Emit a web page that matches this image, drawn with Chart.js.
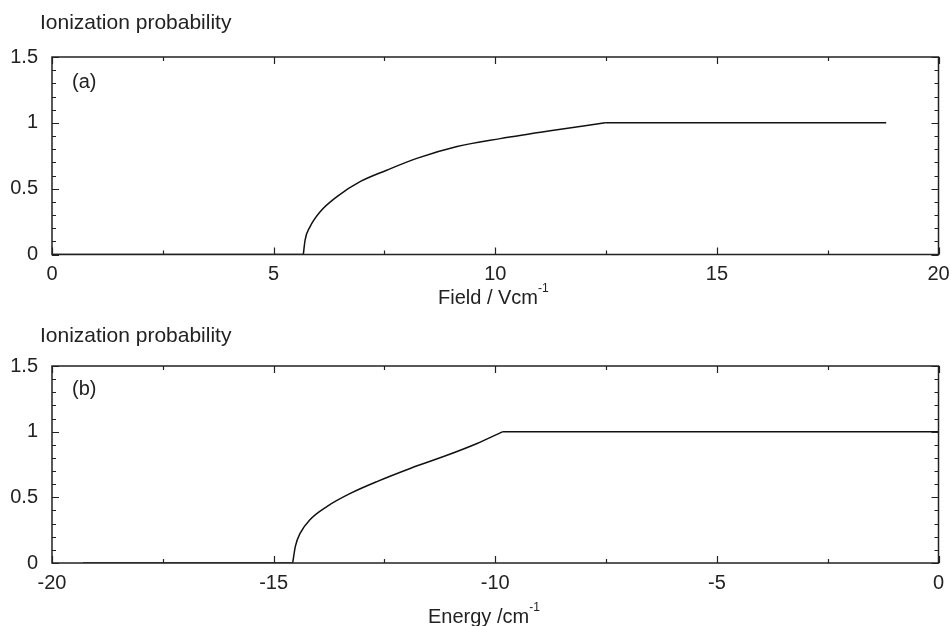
<!DOCTYPE html>
<html>
<head>
<meta charset="utf-8">
<script src="https://cdn.jsdelivr.net/npm/chart.js@4.4.1/dist/chart.umd.min.js"></script>
<style>
  body { margin: 0; background: #fff; width: 951px; height: 626px; position: relative; overflow: hidden;
         font-family: "Liberation Sans", Arial, sans-serif; color: #222; }
  canvas { position: absolute; left: 0; }
  .lbl { position: absolute; font-size: 20px; line-height: 20px; white-space: nowrap; }
  .ttl { font-size: 21px; }
  .sup { font-size: 12px; position: relative; top: -12px; }
</style>
</head>
<body>
<canvas id="fieldCanvas" width="951" height="310" style="top:0"></canvas>
<canvas id="energyCanvas" width="951" height="316" style="top:310px"></canvas>

<div class="lbl ttl" style="left:40px; top:12px">Ionization probability</div>
<div class="lbl" style="left:72px; top:71px">(a)</div>
<div class="lbl" style="left:438px; top:287px">Field / Vcm<span class="sup">-1</span></div>

<div class="lbl ttl" style="left:40px; top:325px">Ionization probability</div>
<div class="lbl" style="left:72px; top:378px">(b)</div>
<div class="lbl" style="left:428px; top:606px">Energy /cm<span class="sup">-1</span></div>

<script>
// panel (a): ionization probability vs field
const fieldX = [0, 5.67, 5.71, 5.82, 6.05, 6.43, 6.95, 7.55, 8.23, 9.14, 10.11, 11.24, 12.48, 18.82];
const fieldP = [0, 0, 0.11, 0.21, 0.325, 0.44, 0.553, 0.64, 0.73, 0.82, 0.88, 0.94, 1.0, 1.0];

// panel (b): ionization probability vs energy
const energyX = [-19.3, -14.57, -14.51, -14.4, -14.18, -13.8, -13.27, -12.67, -11.92, -11.09, -10.41, -9.83, 0];
const energyP = [0, 0, 0.127, 0.228, 0.33, 0.43, 0.53, 0.62, 0.72, 0.82, 0.91, 1.0, 1.0];

const fieldTicks = [0, 5, 10, 15, 20];
const energyTicks = [-20, -15, -10, -5, 0];
const probTicks = [0, 0.5, 1, 1.5];

const FONT = { family: '"Liberation Sans", Arial, sans-serif', size: 20 };
const INK = '#222';

// gnuplot style frame with inward ticks on all four sides
const inwardTicks = {
    id: 'inwardTicks',
    afterDraw(chart, args, opts) {
        const ctx = chart.ctx;
        const a = chart.chartArea;
        const xs = chart.scales.x, ys = chart.scales.y;
        ctx.save();
        ctx.strokeStyle = INK;
        ctx.lineWidth = 1.5;
        ctx.strokeRect(a.left, a.top, a.right - a.left, a.bottom - a.top);
        ctx.lineWidth = 1.2;
        ctx.beginPath();
        for (let v = xs.min; v <= xs.max + 1e-9; v += opts.xMinor) {
            const px = Math.round(xs.getPixelForValue(v)) + 0.5;
            const r = v / opts.xMajor;
            const len = Math.abs(r - Math.round(r)) < 1e-6 ? 7 : 4;
            ctx.moveTo(px, a.bottom); ctx.lineTo(px, a.bottom - len);
            ctx.moveTo(px, a.top); ctx.lineTo(px, a.top + len);
        }
        for (let v = ys.min; v <= ys.max + 1e-9; v += opts.yMinor) {
            const py = Math.round(ys.getPixelForValue(v)) + 0.5;
            const r = v / opts.yMajor;
            const len = Math.abs(r - Math.round(r)) < 1e-6 ? 7 : 4;
            ctx.moveTo(a.left, py); ctx.lineTo(a.left + len, py);
            ctx.moveTo(a.right, py); ctx.lineTo(a.right - len, py);
        }
        ctx.stroke();
        ctx.restore();
    }
};

const lineStyle = { showLine: true, borderColor: '#111', borderWidth: 1.5, pointRadius: 0 };

// flat parts straight, rising part smooth, so the corners stay sharp
const splitCurve = (xs, ps) => {
    const pts = xs.map((x, i) => ({ x: x, y: ps[i] }));
    const riseStart = ps.lastIndexOf(0);
    const riseEnd = ps.indexOf(1.0);
    return [
        Object.assign({ data: pts.slice(0, riseStart + 1), tension: 0 }, lineStyle),
        Object.assign({ data: pts.slice(riseStart, riseEnd + 1), cubicInterpolationMode: 'monotone' }, lineStyle),
        Object.assign({ data: pts.slice(riseEnd), tension: 0 }, lineStyle)
    ];
};

const makePanel = (canvasId, xs, ps, xTicks, topPad, xAxisHeight) => {
    const ctx = document.getElementById(canvasId).getContext('2d');
    return new Chart(ctx, {
        type: 'scatter',
        data: { datasets: splitCurve(xs, ps) },
        options: {
            responsive: false,
            animation: false,
            layout: { padding: { top: topPad, right: 12.5, left: 0, bottom: 0 } },
            plugins: {
                legend: { display: false },
                tooltip: { enabled: false },
                inwardTicks: { xMinor: 2.5, xMajor: 5, yMinor: 0.1, yMajor: 0.5 }
            },
            scales: {
                x: {
                    type: 'linear',
                    min: xTicks[0],
                    max: xTicks[xTicks.length - 1],
                    grid: { display: false, drawTicks: false },
                    border: { display: false },
                    afterBuildTicks: (s) => { s.ticks = xTicks.map((v) => ({ value: v })); },
                    afterFit: (s) => {
                        s.height = xAxisHeight;
                        s.paddingLeft = 0;
                        s.paddingRight = 0;
                    },
                    ticks: { color: INK, font: FONT, padding: 8, maxRotation: 0,
                             callback: (v) => String(v) }
                },
                y: {
                    type: 'linear',
                    min: 0,
                    max: 1.5,
                    grid: { display: false, drawTicks: false },
                    border: { display: false },
                    afterBuildTicks: (s) => { s.ticks = probTicks.map((v) => ({ value: v })); },
                    afterFit: (s) => {
                        s.width = 52;
                        s.paddingTop = 0;
                        s.paddingBottom = 0;
                    },
                    ticks: { color: INK, font: FONT, padding: 14,
                             callback: (v) => String(v) }
                }
            }
        },
        plugins: [inwardTicks]
    });
};

window.addEventListener('DOMContentLoaded', () => {
    makePanel('fieldCanvas', fieldX, fieldP, fieldTicks, 57, 55.5);
    makePanel('energyCanvas', energyX, energyP, energyTicks, 56, 63);
});
</script>
</body>
</html>
